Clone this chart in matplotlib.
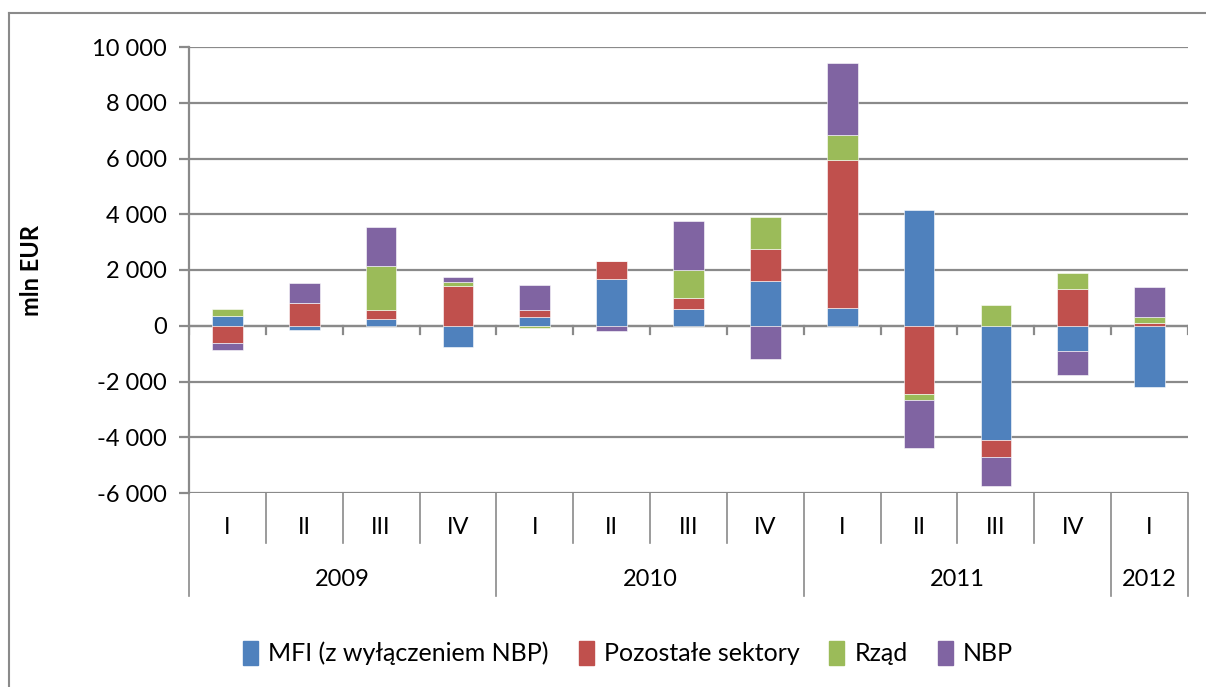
import numpy as np
import matplotlib
matplotlib.use('Agg')
import matplotlib.pyplot as plt
from matplotlib.lines import Line2D
from matplotlib.patches import Patch

plt.rcParams['font.family'] = ['Lato', 'DejaVu Sans']

# quarters 2009 Q1 .. 2012 Q1
quarters = ['I', 'II', 'III', 'IV', 'I', 'II', 'III', 'IV', 'I', 'II', 'III', 'IV', 'I']
years = ['2009', '2010', '2011', '2012']
year_spans = [4, 4, 4, 1]

series_names = ['MFI (z wyłączeniem NBP)', 'Pozostałe sektory', 'Rząd', 'NBP']
mfi = [360, -140, 230, -765, 300, 1670, 585, 1610, 645, 4155, -4105, -915, -2180]
pozostale = [-630, 810, 345, 1410, 260, 670, 395, 1145, 5300, -2450, -595, 1335, 85]
rzad = [240, 0, 1575, 165, -95, 0, 1025, 1135, 885, -205, 750, 540, 240]
nbp = [-225, 720, 1385, 190, 895, -180, 1745, -1195, 2580, -1725, -1050, -835, 1075]
colors = ['#4F81BD', '#C0504D', '#9BBB59', '#8064A2']

W, H = 1206, 687
fig = plt.figure(figsize=(W / 100, H / 100), dpi=100)
ax = fig.add_axes([189 / W, 1 - 493 / H, (1188 - 189) / W, (493 - 47) / H])

x = np.arange(len(quarters))
pos_base = np.zeros(len(x))
neg_base = np.zeros(len(x))
for vals, col, name in zip([mfi, pozostale, rzad, nbp], colors, series_names):
    v = np.array(vals, dtype=float)
    base = np.where(v >= 0, pos_base, neg_base)
    ax.bar(x, v, bottom=base, width=0.4, color=col, edgecolor='white',
           linewidth=0.4, zorder=3, label=name)
    pos_base += np.where(v >= 0, v, 0)
    neg_base += np.where(v < 0, v, 0)

FS = 17
ax.set_xlim(-0.5, len(x) - 0.5)
ax.set_ylim(-6000, 10000)
yt = np.arange(-6000, 10001, 2000)
ax.set_yticks(yt)
ax.set_yticklabels([f'{v:,}'.replace(',', ' ') for v in yt], fontsize=FS)
ax.grid(axis='y', color='#8a8a8a', linewidth=1.6, zorder=0)
ax.set_xticks([])
for s in ['top', 'right', 'bottom']:
    ax.spines[s].set_visible(False)
ax.spines['left'].set_color('#8a8a8a')
ax.spines['left'].set_linewidth(1.6)
ax.tick_params(axis='y', length=7, width=1.6, color='#8a8a8a', pad=9)
ax.set_ylabel('mln EUR', fontsize=FS, fontweight='bold')
ax.yaxis.set_label_coords(-146 / (1188 - 189), 0.5)

# zero axis line with tick marks
ax.axhline(0, color='#8a8a8a', linewidth=1.6, zorder=2)
for b in np.arange(len(x) + 1) - 0.5:
    ax.plot([b, b], [0, -280], color='#8a8a8a', linewidth=1.6, zorder=2)

# multi-level category axis below the plot
trans = ax.get_xaxis_transform()
ph = (493 - 47)  # axes height in px
q_low = -(543 - 493) / ph
y_low = -(596 - 493) / ph
for i, q in enumerate(quarters):
    ax.text(i, -(527 - 493) / ph, q, transform=trans, ha='center', va='center', fontsize=FS)
bounds = np.cumsum([0] + year_spans) - 0.5
for b in np.arange(len(x) + 1) - 0.5:
    low = y_low if np.any(np.isclose(bounds, b)) else q_low
    ax.add_line(Line2D([b, b], [0, low], transform=trans, color='#8a8a8a',
                       linewidth=1.2, clip_on=False))
for yr, a, b in zip(years, bounds[:-1], bounds[1:]):
    ax.text((a + b) / 2, -(579 - 493) / ph, yr, transform=trans, ha='center',
            va='center', fontsize=FS)

handles = [Patch(color=c) for c in colors]
fig.legend(handles, series_names, loc='center', bbox_to_anchor=(628 / W, 1 - 653 / H),
           ncol=4, frameon=False, fontsize=FS + 1, handlelength=0.6, handleheight=1.1,
           handletextpad=0.4, columnspacing=1.2)

# outer chart border (top and left visible)
fig.add_artist(Line2D([9 / W, 1], [1 - 13 / H, 1 - 13 / H], color='#8a8a8a', linewidth=1.5))
fig.add_artist(Line2D([9 / W, 9 / W], [0, 1 - 13 / H], color='#8a8a8a', linewidth=1.5))

fig.savefig('out.png', dpi=100)
